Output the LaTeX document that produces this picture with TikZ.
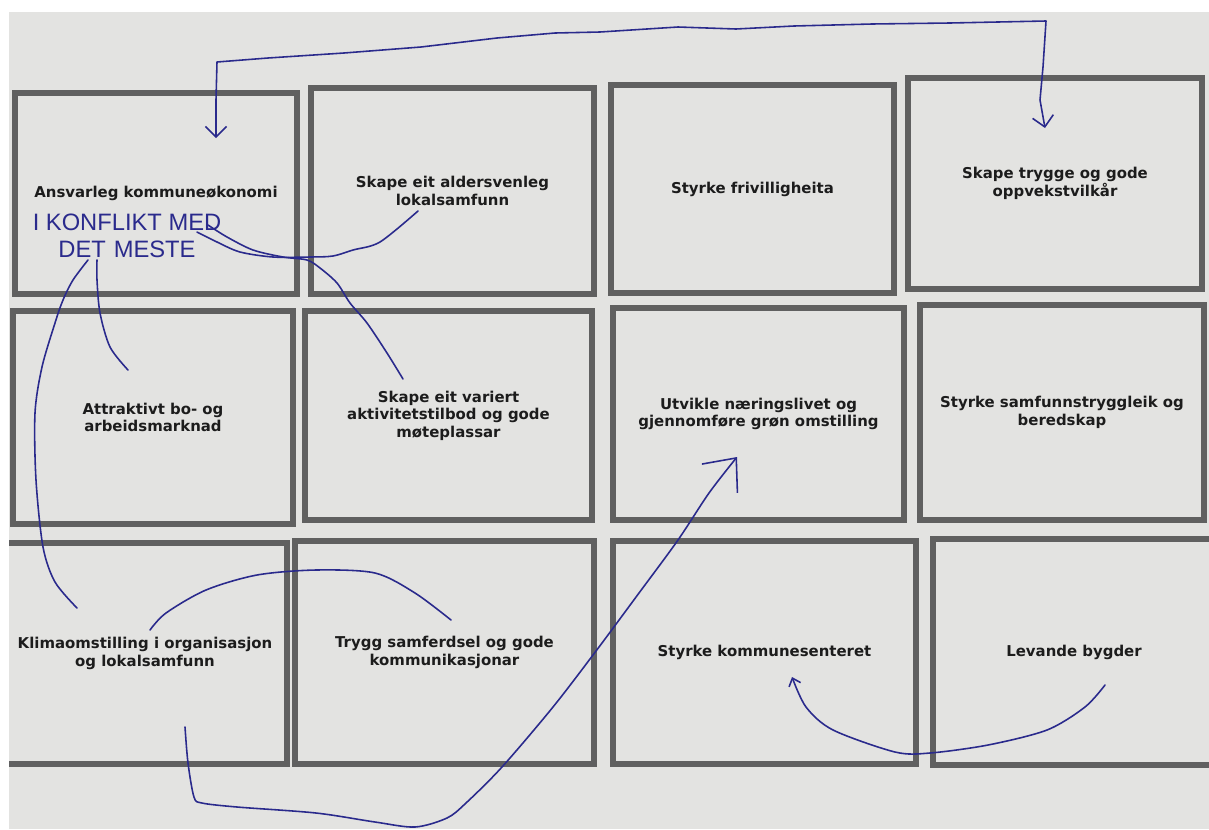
\documentclass[tikz,border=0pt]{standalone}
\usepackage{fontspec}
\setmainfont{DejaVu Sans}
\newfontfamily\handfont{Liberation Sans}
\usetikzlibrary{arrows.meta}

\begin{document}
\begin{tikzpicture}[x=0.02cm, y=-0.02cm,
   kort/.style={draw=kantgra, line width=0.12cm, inner sep=0pt, align=center,
     text=svart, font=\fontsize{8.5}{10}\selectfont\bfseries},
   hand/.style={draw=penn, line width=0.9pt, line cap=round, line join=round},
   handtekst/.style={text=penn, inner sep=0pt, font=\handfont\fontsize{13.5}{15}\selectfont},
   >={Straight Barb[length=6pt,width=12pt]}]
   \definecolor{papir}{RGB}{227,227,225}
   \definecolor{kantgra}{RGB}{96,96,96}
   \definecolor{svart}{RGB}{28,28,28}
   \definecolor{penn}{RGB}{42,42,140}

   \useasboundingbox (0,0) rectangle (1209,829);
   \clip (0,0) rectangle (1209,829);
   \fill[papir] (0,0) rectangle (1209,829);

   \node [kort, minimum width=5.64cm, minimum height=4.02cm] (okonomi) at (156,193.5) {Ansvarleg kommuneøkonomi};
   \node [kort, minimum width=5.66cm, minimum height=4.12cm] (alder) at (452.5,191) {Skape eit aldersvenleg\\lokalsamfunn};
   \node [kort, minimum width=5.66cm, minimum height=4.16cm] (frivillig) at (752.5,189) {Styrke frivilligheita};
   \node [kort, minimum width=5.88cm, minimum height=4.22cm] (oppvekst) at (1055,183.5) {Skape trygge og gode\\oppvekstvilkår};

   \node [kort, minimum width=5.60cm, minimum height=4.26cm] (bustad) at (153,417.5) {Attraktivt bo- og\\arbeidsmarknad};
   \node [kort, minimum width=5.74cm, minimum height=4.18cm] (aktivitet) at (448.5,415.5) {Skape eit variert\\aktivitetstilbod og gode\\møteplassar};
   \node [kort, minimum width=5.82cm, minimum height=4.24cm] (naering) at (758.5,414) {Utvikle næringslivet og\\gjennomføre grøn omstilling};
   \node [kort, minimum width=5.68cm, minimum height=4.30cm] (beredskap) at (1062,412.5) {Styrke samfunnstryggleik og\\beredskap};

   \node [kort, minimum width=5.68cm, minimum height=4.42cm] (klima) at (145,653.5) {Klimaomstilling i organisasjon\\og lokalsamfunn};
   \node [kort, minimum width=5.98cm, minimum height=4.46cm] (samferdsel) at (444.5,652.5) {Trygg samferdsel og gode\\kommunikasjonar};
   \node [kort, minimum width=6.06cm, minimum height=4.46cm] (senter) at (764.5,652.5) {Styrke kommunesenteret};
   \node [kort, minimum width=5.64cm, minimum height=4.52cm] (bygder) at (1074,652) {Levande bygder};

   \fill[white] (0,0) rectangle (1209,12);
   \fill[white] (0,0) rectangle (9,829);

   \node [handtekst] (konflikt) at (127,222) {I KONFLIKT MED};
   \node [handtekst] (meste) at (127,249) {DET\,\,MESTE};

   \coordinate (okoPil) at (216,138);
   \coordinate (oppvekstPil) at (1045,128);
   \draw[hand, <->] (okoPil) -- (216,100) -- (217,62) -- (268,58) -- (344,53) -- (421,47)
     -- (497,38) -- (555,33) -- (600,32) -- (678,27) -- (736,29) -- (794,26) -- (872,24)
     -- (950,23) -- (1046,21) -- (1043,67) -- (1040,100) -- (oppvekstPil);

   \coordinate (fraMed) at (197,232);
   \coordinate (tilAlder) at (418,211);
   \draw[hand] plot[smooth] coordinates {(fraMed) (217,242) (240,252) (273,257) (310,257)
     (333,256) (353,250) (380,242) (tilAlder)};

   \coordinate (fraMed2) at (208,225);
   \coordinate (tilAktivitet) at (403,379);
   \draw[hand] plot[smooth] coordinates {(fraMed2) (227,237) (253,250) (283,257) (307,260)
     (320,268) (337,283) (350,303) (367,323) (387,353) (tilAktivitet)};

   \coordinate (fraDet) at (97,260);
   \coordinate (tilBustad) at (128,370);
   \draw[hand] plot[smooth] coordinates {(fraDet) (97,280) (100,313) (110,347) (tilBustad)};

   \coordinate (fraDet2) at (88,260);
   \coordinate (tilKlima) at (77,608);
   \draw[hand] plot[smooth] coordinates {(fraDet2) (73,280) (63,300) (55,323) (42,367)
     (35,413) (36,480) (43,547) (55,582) (tilKlima)};

   \coordinate (klimaBoge) at (150,630);
   \coordinate (samferdselBoge) at (451,620);
   \draw[hand] plot[smooth] coordinates {(klimaBoge) (166,613) (206,590) (257,575) (316,570)
     (375,573) (415,593) (samferdselBoge)};

   \coordinate (fraKlima) at (185,727);
   \coordinate (tilNaering) at (737,457);
   \draw[hand, -{Straight Barb[length=15pt,width=26pt]}] plot[smooth] coordinates {(fraKlima)
     (188,763) (194,797) (202,803) (237,807) (316,813) (375,822) (415,827) (447,818)
     (466,803) (502,767) (553,707) (596,651) (639,593) (678,540) (709,493) (tilNaering)};

   \coordinate (fraBygder) at (1105,685);
   \coordinate (tilSenter) at (792,677);
   \draw[hand, -{Straight Barb[length=4pt,width=7pt]}] plot[smooth] coordinates {(fraBygder)
     (1085,707) (1047,730) (988,745) (930,753) (895,752) (833,730) (806,707) (tilSenter)};
\end{tikzpicture}
\end{document}
